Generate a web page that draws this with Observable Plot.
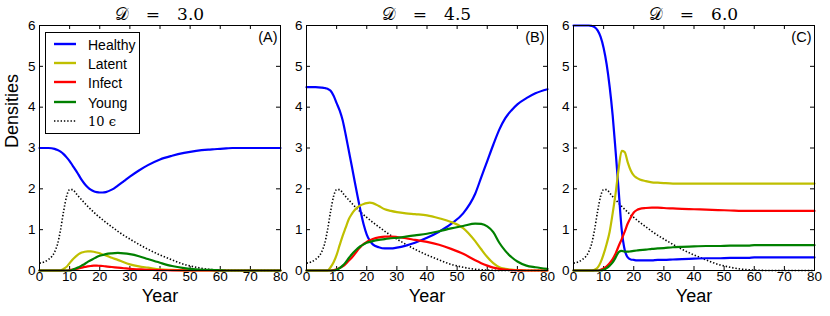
<!DOCTYPE html>
<html><head><meta charset="utf-8">
<script src="https://cdn.jsdelivr.net/npm/d3@7"></script>
<script src="https://cdn.jsdelivr.net/npm/@observablehq/plot@0.6"></script>
<style>
body{margin:0;background:#fff;}
#wrap{position:relative;width:830px;height:316px;overflow:hidden;font-family:"Liberation Sans",Arial,sans-serif;background:#fff;}
#wrap svg{position:absolute;top:0;background:transparent;overflow:visible;}
#legend{position:absolute;left:45px;top:32px;width:95px;height:102px;box-sizing:border-box;border:1px solid #000;background:#fff;}
#legend .row{position:absolute;left:0;height:20px;}
#legend .row svg{position:absolute;left:7px;top:0;width:24px;height:20px;}
#legend .row span{position:absolute;left:42px;top:1px;font-size:14px;line-height:18px;white-space:nowrap;color:#000;}
.ptitle{position:absolute;top:2px;width:241px;text-align:center;font-family:'DejaVu Serif','Liberation Serif',serif;font-size:17px;line-height:24px;white-space:pre;color:#000;}
</style></head><body><div id="wrap"></div>
<script>
// ---- data ----
const years = [0,3,5,6,7,8,9,10,11,12,13,14,15,16,17,18,19,20,21,22,24,26,28,30,33,36,40,44,48,52,56,58,60,62,64,66,68,70,73,76,80];
const eps10 = [0.18,0.27,0.45,0.65,1.0,1.45,1.82,1.98,1.98,1.9,1.81,1.73,1.65,1.57,1.5,1.43,1.36,1.3,1.24,1.18,1.07,0.96,0.86,0.77,0.64,0.52,0.38,0.26,0.15,0.08,0.03,0.02,0.01,0.005,0,0,0,0,0,0,0];

const healthyA = [3.0,3.0,2.98,2.95,2.91,2.85,2.77,2.68,2.57,2.46,2.34,2.22,2.12,2.04,1.98,1.94,1.92,1.91,1.91,1.92,1.98,2.08,2.19,2.3,2.45,2.58,2.72,2.81,2.88,2.93,2.96,2.97,2.98,2.99,3.0,3.0,3.0,3.0,3.0,3.0,3.0];
const latentA  = [0,0,0,0,0,0.04,0.09,0.18,0.27,0.34,0.4,0.44,0.46,0.47,0.47,0.46,0.44,0.42,0.39,0.37,0.31,0.26,0.2,0.15,0.1,0.07,0.03,0.015,0.005,0,0,0,0,0,0,0,0,0,0,0,0];
const infectA  = [0,0,0,0,0,0,0,0.01,0.02,0.035,0.05,0.07,0.09,0.1,0.11,0.12,0.12,0.115,0.11,0.1,0.085,0.07,0.055,0.04,0.028,0.018,0.009,0.004,0.001,0,0,0,0,0,0,0,0,0,0,0,0];
const youngA   = [0,0,0,0,0,0,0,0,0.02,0.05,0.08,0.12,0.16,0.21,0.25,0.29,0.33,0.36,0.38,0.4,0.42,0.43,0.42,0.4,0.35,0.28,0.19,0.11,0.06,0.03,0.015,0.01,0.005,0,0,0,0,0,0,0,0];

const healthyB = [4.49,4.49,4.48,4.47,4.45,4.4,4.28,4.1,3.92,3.68,3.33,2.95,2.57,2.18,1.8,1.44,1.12,0.88,0.73,0.64,0.57,0.54,0.54,0.56,0.61,0.68,0.8,0.95,1.14,1.4,1.88,2.28,2.68,3.08,3.45,3.73,3.92,4.07,4.22,4.34,4.44];
const latentB  = [0,0,0,0,0,0.08,0.2,0.38,0.62,0.85,1.05,1.25,1.38,1.48,1.55,1.6,1.63,1.65,1.66,1.65,1.58,1.5,1.46,1.43,1.4,1.38,1.35,1.28,1.19,1.04,0.72,0.52,0.33,0.18,0.08,0.04,0.02,0.01,0,0,0];
const infectB  = [0,0,0,0,0,0,0.01,0.03,0.06,0.1,0.16,0.24,0.31,0.4,0.5,0.58,0.65,0.7,0.74,0.77,0.81,0.83,0.83,0.82,0.79,0.75,0.7,0.63,0.53,0.41,0.25,0.18,0.12,0.07,0.04,0.02,0.01,0.005,0,0,0];
const youngB   = [0,0,0,0,0,0,0,0.02,0.06,0.12,0.2,0.3,0.39,0.47,0.54,0.6,0.64,0.68,0.7,0.72,0.75,0.77,0.79,0.8,0.83,0.86,0.9,0.96,1.03,1.09,1.15,1.14,1.08,0.94,0.68,0.48,0.33,0.22,0.12,0.08,0.04];

const healthyC = [6.0,6.0,6.0,5.99,5.96,5.88,5.72,5.45,5.05,4.5,3.8,2.9,1.95,1.0,0.5,0.32,0.27,0.26,0.25,0.25,0.25,0.25,0.26,0.26,0.27,0.28,0.29,0.3,0.3,0.31,0.31,0.31,0.32,0.32,0.32,0.32,0.32,0.32,0.32,0.32,0.32];
const latentC  = [0,0,0,0,0.02,0.07,0.2,0.4,0.65,0.95,1.4,1.9,2.5,2.93,2.9,2.65,2.45,2.33,2.27,2.23,2.19,2.16,2.15,2.14,2.13,2.13,2.13,2.13,2.13,2.13,2.13,2.13,2.13,2.13,2.13,2.13,2.13,2.13,2.13,2.13,2.13];
const infectC  = [0,0,0,0,0,0,0.02,0.05,0.1,0.18,0.28,0.42,0.6,0.77,0.95,1.15,1.3,1.42,1.48,1.51,1.53,1.54,1.54,1.53,1.52,1.51,1.5,1.49,1.48,1.47,1.46,1.46,1.46,1.46,1.46,1.46,1.46,1.46,1.46,1.46,1.46];
const youngC   = [0,0,0,0,0,0,0,0.02,0.06,0.12,0.2,0.32,0.45,0.48,0.46,0.46,0.47,0.48,0.49,0.5,0.51,0.53,0.54,0.55,0.57,0.58,0.59,0.6,0.6,0.61,0.61,0.61,0.62,0.62,0.62,0.62,0.62,0.62,0.62,0.62,0.62];

const seriesNames  = ["Healthy","Latent","Infect","Young"];
const seriesColors = ["#0000ff","#bfbf00","#ff0000","#008000"];
const panelValues  = ["3.0","4.5","6.0"];
const panelLabels  = ["(A)","(B)","(C)"];
const panelSeries  = [[healthyA,latentA,infectA,youngA],[healthyB,latentB,infectB,youngB],[healthyC,latentC,infectC,youngC]];
const xTicks = [0,10,20,30,40,50,60,70,80];
const yTicks = [0,1,2,3,4,5,6];
const epsLabel = "10 \u03f5";
const titleSymbol = "\u{1D49F}";

// ---- layout ----
const wrap = document.getElementById("wrap");
const frameLefts = [39,306,573];
const ML = 39, FW = 241, MR = 12, MT = 25, FH = 245, H = 316;
const sans = "'Liberation Sans', Arial, sans-serif";
const DOT = "1.4,1.9";

panelSeries.forEach((series, i) => {
  const lines = series.map((vals, j) => Plot.line(years.map((t, k) => ({t, v: vals[k]})), {
    x: "t", y: "v", stroke: seriesColors[j], strokeWidth: 2.2, curve: "monotone-x"
  }));
  const marks = [
    Plot.axisX(xTicks, {anchor: "bottom", tickSize: 0, tickPadding: 1, fontSize: 13.5, label: null}),
    Plot.axisY(yTicks, {anchor: "left", tickSize: 0, tickPadding: 4, fontSize: 13.5, label: null}),
    Plot.tickX(xTicks, {x: d => d, insetTop: FH - 4, stroke: "#000"}),
    Plot.tickX(xTicks, {x: d => d, insetBottom: FH - 4, stroke: "#000"}),
    Plot.tickY(yTicks, {y: d => d, insetRight: FW - 4, stroke: "#000"}),
    Plot.tickY(yTicks, {y: d => d, insetLeft: FW - 4, stroke: "#000"}),
    Plot.line(years.map((t, k) => ({t, v: eps10[k]})), {x: "t", y: "v", stroke: "#000", strokeWidth: 1.6, strokeDasharray: DOT, strokeLinecap: "butt", curve: "monotone-x"}),
    ...lines,
    Plot.frame({stroke: "#000", strokeWidth: 1}),
    Plot.text([panelLabels[i]], {frameAnchor: "top-right", dx: -3, dy: 6, textAnchor: "end", lineAnchor: "top", fontSize: 14.5, fontFamily: sans}),
    Plot.text(["Year"], {frameAnchor: "bottom", dy: 31, fontSize: 18, fontFamily: sans})
  ];
  if (i === 0) marks.push(Plot.text(["Densities"], {frameAnchor: "left", dx: -27, rotate: -90, fontSize: 18, fontFamily: sans}));
  const svg = Plot.plot({
    width: ML + FW + MR, height: H,
    marginLeft: ML, marginRight: MR, marginTop: MT, marginBottom: H - MT - FH,
    x: {domain: [0, 80]}, y: {domain: [0, 6]},
    style: {fontFamily: sans, background: "transparent", overflow: "visible", color: "#000"},
    marks
  });
  svg.style.left = (frameLefts[i] - ML) + "px";
  wrap.appendChild(svg);

  const t = document.createElement("div");
  t.className = "ptitle";
  t.style.left = frameLefts[i] + "px";
  t.textContent = titleSymbol + "\u2003=\u2003" + panelValues[i];
  wrap.appendChild(t);
});

// ---- legend (inside panel A) ----
const legend = document.createElement("div");
legend.id = "legend";
const rowTops = [2, 21, 40, 60, 79];
const legendItems = seriesNames.map((n, j) => ({label: n, color: seriesColors[j], dash: null}))
  .concat([{label: epsLabel, color: "#000", dash: DOT}]);
legendItems.forEach((it, j) => {
  const row = document.createElement("div");
  row.className = "row";
  row.style.top = rowTops[j] + "px";
  row.innerHTML = `<svg viewBox="0 0 24 20"><line x1="1" x2="23" y1="9" y2="9" stroke="${it.color}" stroke-width="${it.dash ? 1.6 : 2.4}" ${it.dash ? `stroke-dasharray="${it.dash}"` : ""}/></svg><span style="${it.dash ? "font-family:'DejaVu Serif','Liberation Serif',serif;font-size:13px;" : ""}">${it.label}</span>`;
  legend.appendChild(row);
});
wrap.appendChild(legend);
</script>
</body></html>
